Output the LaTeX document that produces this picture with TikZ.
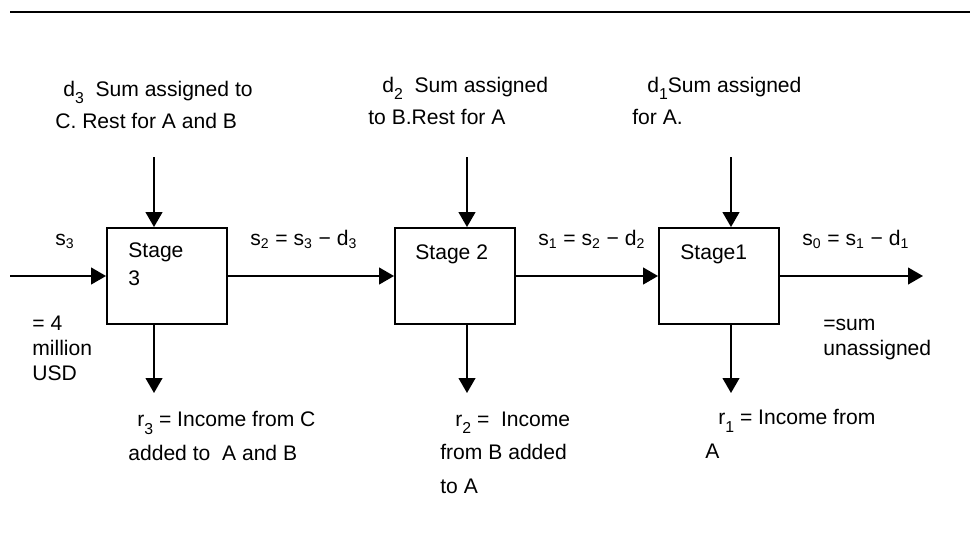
\documentclass[tikz,border=0pt]{standalone}
\usepackage{fontspec}
\setmainfont{Liberation Sans}
\usetikzlibrary{arrows.meta, calc}

\newcommand{\lowidx}[1]{\raisebox{-4pt}{\fontsize{9}{9}\selectfont#1}}

\tikzset{
  stagebox/.style={draw, line width=1.1pt, minimum width=2.4cm, minimum height=1.92cm, inner sep=0pt},
  flow/.style={line width=1.1pt, -{Triangle[length=8.5pt, width=9.5pt]}},
  txt/.style={inner sep=0pt, anchor=base west, align=left, font=\fontsize{12}{18.2}\selectfont},
  tighttxt/.style={txt, font=\fontsize{12}{14.2}\selectfont},
}

\begin{document}
\begin{tikzpicture}[x=0.02cm, y=-0.02cm]  % one unit = one pixel of the reference
    % Parameters
    \def\flowY{276}  % height of the main flow line
    \def\topY{157}   % start of the decision arrows
    \def\botY{393}   % end of the return arrows
    \useasboundingbox (0,0) rectangle (970,535);

    % Top rule
    \coordinate (ruleL) at (10,12);
    \coordinate (ruleR) at (970,12);
    \draw[line width=1.1pt] (ruleL) -- (ruleR);

    % Stage boxes with decision and return arrows
    \foreach \name/\x/\ax in {s3box/167/154, s2box/455/467, s1box/719/731} {
        \node[stagebox] (\name) at (\x,\flowY) {};
        \coordinate (\name top) at (\ax,\topY);
        \coordinate (\name bot) at (\ax,\botY);
        \draw[flow] (\name top) -- (\name top |- \name.north);
        \draw[flow] (\name bot |- \name.south) -- (\name bot);
    }

    % Main flow
    \coordinate (inflow) at (10,\flowY);
    \coordinate (outflow) at (923,\flowY);
    \draw[flow] (inflow) -- (s3box);
    \draw[flow] (s3box) -- (s2box);
    \draw[flow] (s2box) -- (s1box);
    \draw[flow] (s1box) -- (outflow);

    % Stage names (anchored at the baseline of the last line)
    \node[txt, font=\fontsize{12}{15.5}\selectfont] (st3lbl) at (128,285) {Stage\\3};
    \node[txt] (st2lbl) at (415,259) {Stage 2};
    \node[txt] (st1lbl) at (680,259) {Stage1};

    % Decisions
    \node[txt] (d3lbl) at (55,128) {\hspace*{0.16cm}d\lowidx{3}\ \ Sum assigned to\\C. Rest for A and B};
    \node[txt] (d2lbl) at (368,124) {\hspace*{0.28cm}d\lowidx{2}\ \ Sum assigned\\to B.Rest for A};
    \node[txt] (d1lbl) at (632,124) {\hspace*{0.3cm}d\lowidx{1}Sum assigned\\for A.};

    % States
    \node[txt] (s3lbl) at (55,245) {s\textsubscript{3}};
    \node[txt] (s2lbl) at (250,245) {s\textsubscript{2} = s\textsubscript{3} − d\textsubscript{3}};
    \node[txt] (s1lbl) at (538,245) {s\textsubscript{1} = s\textsubscript{2} − d\textsubscript{2}};
    \node[txt] (s0lbl) at (802,245) {s\textsubscript{0} = s\textsubscript{1} − d\textsubscript{1}};
    \node[tighttxt] (usdlbl) at (32,380) {= 4\\million\\USD};
    \node[tighttxt] (restlbl) at (823,355) {=sum\\unassigned};

    % Returns
    \node[txt, font=\fontsize{12}{18.8}\selectfont] (r3lbl) at (128,460) {\hspace*{0.18cm}r\lowidx{3} = Income from C\\added to\ \ A and B};
    \node[txt, font=\fontsize{12}{18.8}\selectfont] (r2lbl) at (440,493) {\hspace*{0.3cm}r\lowidx{2} =\ \ Income\\from B added\\to A};
    \node[txt, font=\fontsize{12}{18.8}\selectfont] (r1lbl) at (705,458) {\hspace*{0.26cm}r\lowidx{1} = Income from\\A};

\end{tikzpicture}
\end{document}
